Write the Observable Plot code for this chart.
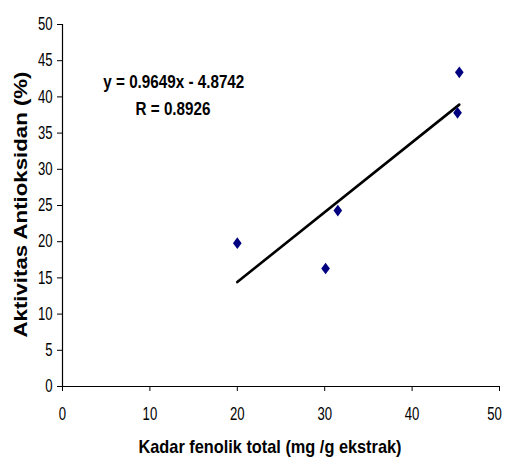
<!DOCTYPE html>
<html>
<head>
<meta charset="utf-8">
<script src="https://cdn.jsdelivr.net/npm/d3@7"></script>
<script src="https://cdn.jsdelivr.net/npm/@observablehq/plot@0.6"></script>
<style>
  html, body { margin: 0; padding: 0; background: #fff; }
  #chart svg { display: block; }
</style>
</head>
<body>
<div id="chart"></div>
<script>
const phenolic = [20.0, 30.1, 31.5, 45.4, 45.2];
const antioxidant = [19.8, 16.3, 24.3, 43.4, 37.8];
const slope = 0.9649;
const intercept = -4.8742;
const xTicks = [0, 10, 20, 30, 40, 50];
const yTicks = [0, 5, 10, 15, 20, 25, 30, 35, 40, 45, 50];
const xLabel = "Kadar fenolik total (mg /g ekstrak)";
const yLabel = "Aktivitas Antioksidan (%)";
const eqLines = ["y = 0.9649x - 4.8742", "R = 0.8926"];

const points = phenolic.map((x, i) => ({x, y: antioxidant[i]}));
const xMin = d3.min(phenolic), xMax = d3.max(phenolic);
const trend = [xMin, xMax].map(x => ({x, y: slope * x + intercept}));

const font = "'Liberation Sans', Arial, sans-serif";

// diamond a bit wider than d3's symbolDiamond
const diamond = {
  draw(context, size) {
    const h = Math.sqrt(size) * 0.66;
    const w = h * 0.74;
    context.moveTo(0, -h);
    context.lineTo(w, 0);
    context.lineTo(0, h);
    context.lineTo(-w, 0);
    context.closePath();
  }
};

const chart = Plot.plot({
  width: 508,
  height: 458,
  marginLeft: 62,
  marginRight: 9,
  marginTop: 24,
  marginBottom: 72,
  style: {fontFamily: font, fontSize: "18px", color: "#000", background: "#fff"},
  x: {domain: [0, 50]},
  y: {domain: [0, 50]},
  marks: [
    Plot.axisX({ticks: xTicks, tickSize: 5, tickPadding: 16, label: null, fontSize: 18}),
    Plot.axisY({ticks: yTicks, tickSize: 5, tickPadding: 5, label: null, fontSize: 18}),
    Plot.ruleY([0], {stroke: "#000", strokeWidth: 1.2}),
    Plot.ruleX([0], {stroke: "#000", strokeWidth: 1.2}),
    Plot.line(trend, {x: "x", y: "y", stroke: "#000", strokeWidth: 2.6}),
    Plot.dot(points, {x: "x", y: "y", symbol: diamond, r: 5, fill: "#000080", stroke: "none"}),
    Plot.text([xLabel], {frameAnchor: "bottom", dx: -11, dy: 60, textAnchor: "middle", lineAnchor: "middle", text: d => d, fontSize: 19, fontWeight: "bold", className: "lbl-x"}),
    Plot.text([yLabel], {frameAnchor: "left", dx: -41, dy: -1, rotate: -90, textAnchor: "middle", lineAnchor: "middle", text: d => d, fontSize: 18, fontWeight: "bold", className: "lbl-y"}),
    Plot.text([eqLines[0]], {frameAnchor: "top-left", dx: 111.3, dy: 57, textAnchor: "middle", lineAnchor: "middle", text: d => d, fontSize: 19, fontWeight: "bold", className: "lbl-eq"}),
    Plot.text([eqLines[1]], {frameAnchor: "top-left", dx: 110.5, dy: 84, textAnchor: "middle", lineAnchor: "middle", text: d => d, fontSize: 19, fontWeight: "bold", className: "lbl-r"})
  ]
});

const svg = d3.select(chart);
function squeeze(sel, len) {
  sel.attr("textLength", len).attr("lengthAdjust", "spacingAndGlyphs");
}
squeeze(svg.selectAll(".lbl-x text"), 263);
squeeze(svg.selectAll(".lbl-y text"), 266);
squeeze(svg.selectAll(".lbl-eq text"), 141);
squeeze(svg.selectAll(".lbl-r text"), 75);
svg.selectAll('g[aria-label="x-axis tick label"] text, g[aria-label="y-axis tick label"] text')
  .each(function() {
    const n = this.textContent.length;
    squeeze(d3.select(this), n * 7.3);
  });
// last x tick label sits slightly inside the right edge, as in the reference
const xLabels = svg.selectAll('g[aria-label="x-axis tick label"] text').nodes();
if (xLabels.length) d3.select(xLabels[xLabels.length - 1]).attr("dx", -5);
document.getElementById("chart").appendChild(chart);
</script>
</body>
</html>
